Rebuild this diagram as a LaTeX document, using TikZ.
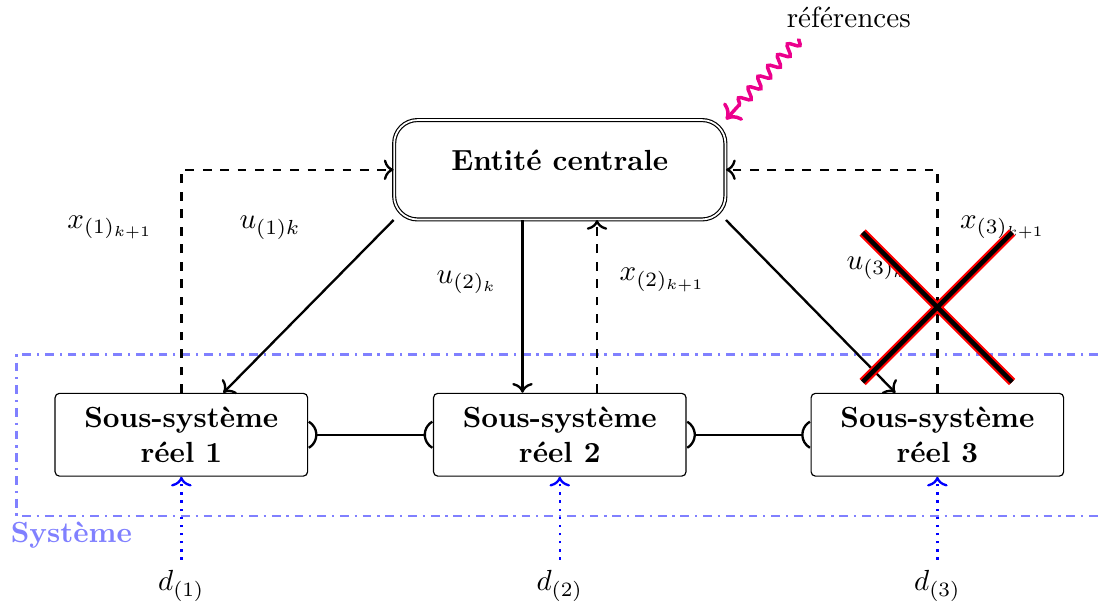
\documentclass[tikz,border=0pt]{standalone}
\usepackage{amsmath,amssymb}
\usetikzlibrary{arrows.meta,shapes.misc,decorations.pathmorphing}

\begin{document}
\begin{tikzpicture}[thick,
    ssbox/.style={draw, thin, rounded corners=1.5pt, align=center, font=\bfseries, minimum width=3.05cm, minimum height=1cm},
    link/.style={thick, {Arc Barb[reversed, scale=1.8, arc=120]}-{Arc Barb[reversed, scale=1.8, arc=120]}},
    pert/.style={->, blue, dotted, thick}]
    \useasboundingbox (0,0) rectangle (13.26,7.32);

    % Zone du systeme (coupee a droite)
    \draw[blue!50, dashdotted, thick] (13.26,3.04) -| (0.2,1.09) -- (13.26,1.09);
    \node[anchor=base west, text=blue!50, font=\bfseries] (sys) at (0,0.77) {Système};

    % Entite centrale et sous-systemes
    \node[draw, thin, double, rounded corners=8pt, minimum width=4cm, minimum height=1.2cm, text depth=6.5pt, font=\bfseries] (ent) at (6.76,5.27) {Entité centrale};
    \node[ssbox] (ss1) at (2.19,2.07) {Sous-système\\réel 1};
    \node[ssbox] (ss2) at (6.76,2.07) {Sous-système\\réel 2};
    \node[ssbox] (ss3) at (11.32,2.07) {Sous-système\\réel 3};

    % Liaisons physiques
    \draw[link] (ss1) -- (ss2);
    \draw[link] (ss2) -- (ss3);

    % Commandes et etats
    \draw[->] (ent.south west) -- (ss1.45);
    \draw[->] ([xshift=-0.45cm]ent.south) -- ([xshift=-0.45cm]ss2.north);
    \draw[->] (ent.south east) -- (ss3.135);
    \draw[->, dashed] (ss1.north) |- (ent.west);
    \draw[->, dashed] ([xshift=0.45cm]ss2.north) -- ([xshift=0.45cm]ent.south);
    \draw[->, dashed] (ss3.north) |- (ent.east);

    \node (x1) at (1.33,4.57) {$x_{(1)_{k+1}}$};
    \node (u1) at (3.26,4.57) {$u_{(1)k}$};
    \node (u2) at (5.64,3.91) {$u_{(2)_k}$};
    \node (x2) at (8.00,3.94) {$x_{(2)_{k+1}}$};
    \node (u3) at (10.59,4.08) {$u_{(3)_k}$};
    \node (x3) at (12.11,4.57) {$x_{(3)_{k+1}}$};

    % Perturbations
    \node[anchor=north] (d1) at (2.19,0.56) {$d_{(1)}$};
    \node[anchor=north] (d2) at (6.76,0.56) {$d_{(2)}$};
    \node[anchor=north] (d3) at (11.32,0.56) {$d_{(3)}$};
    \draw[pert] (d1) -- (ss1);
    \draw[pert] (d2) -- (ss2);
    \draw[pert] (d3) -- (ss3);

    % References
    \node (ref) at (10.25,7.11) {références};
    \draw[magenta, very thick, ->, decorate, decoration={snake, amplitude=1.8pt, segment length=5pt, post length=2mm}] ([xshift=-0.6cm]ref.south) -- (ent.north east);

    % Sous-systeme 3 en panne
    \node[cross out, draw=red, double=black, double distance=1.6pt, line width=0.7pt, minimum size=1.78cm] (panne) at (11.32,3.61) {};
\end{tikzpicture}
\end{document}
